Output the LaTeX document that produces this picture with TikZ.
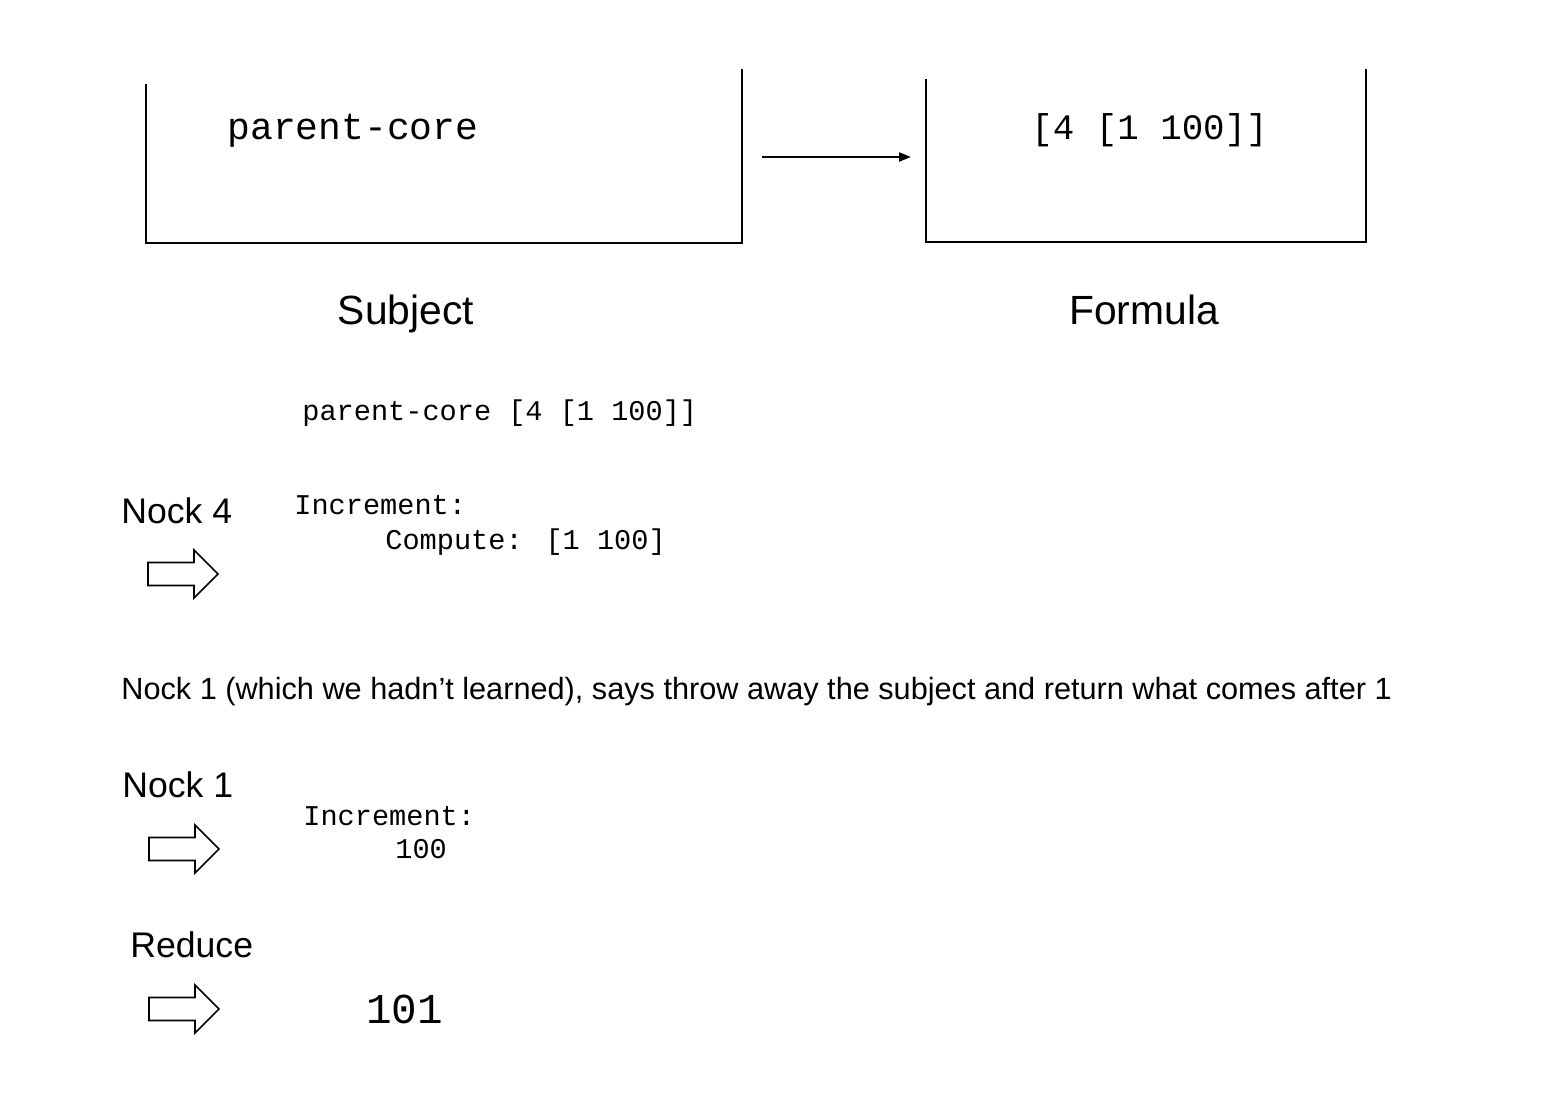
\documentclass[tikz,border=0pt]{standalone}
\usepackage{fontspec}
\setmainfont{Liberation Sans}
\newfontfamily\monofont{Liberation Mono}
\usetikzlibrary{arrows.meta}
\tikzset{
  boxline/.style={line width=1pt, line cap=rect},
  sanslabel/.style={inner sep=0pt, anchor=base west, font=\fontsize{17.8}{22}\selectfont},
  biglabel/.style={inner sep=0pt, anchor=base, font=\fontsize{20.4}{25}\selectfont},
  monobig/.style={inner sep=0pt, anchor=base west, font=\monofont\fontsize{19}{23}\selectfont},
  monomid/.style={inner sep=0pt, anchor=base west, font=\monofont\fontsize{14.3}{17}\selectfont},
  sentence/.style={inner sep=0pt, anchor=base west, font=\fontsize{15.34}{18}\selectfont},
  connector/.style={line width=1pt, -{Triangle[length=6pt,width=4.5pt]}},
  blockarrow/.style={line width=0.8pt, line join=miter},
  pics/fatarrow/.style={code={
    \draw[blockarrow] (0,-11.5) -- (46,-11.5) -- (46,-24) -- (70,0) -- (46,24) -- (46,11.5) -- (0,11.5) -- cycle;
  }}
}
\begin{document}
\begin{tikzpicture}[x=0.5pt, y=-0.5pt]
\useasboundingbox (0,0) rectangle (1544,1102);

% Subject box (open top)
\coordinate (s1) at (146,85);
\coordinate (s2) at (146,243);
\coordinate (s3) at (742,243);
\coordinate (s4) at (742,70);
\draw[boxline] (s1) -- (s2) -- (s3) -- (s4);
\node[monobig] (subjtext) at (227,140) {parent-core};

% Formula box (open top)
\coordinate (f1) at (926,80);
\coordinate (f2) at (926,242);
\coordinate (f3) at (1366,242);
\coordinate (f4) at (1366,70);
\draw[boxline] (f1) -- (f2) -- (f3) -- (f4);
\node[monobig, font=\monofont\fontsize{17.9}{22}\selectfont] (formtext) at (1031,140) {[4 [1 100]]};

% connector between boxes
\coordinate (ca) at (762,157);
\coordinate (cb) at (911,157);
\draw[connector] (ca) -- (cb);

% labels
\node[biglabel] (subjlabel) at (406,324) {Subject};
\node[biglabel] (formlabel) at (1144,324) {Formula};

\node[monomid] (combined) at (302,420) {parent-core [4 [1 100]]};

% Nock 4
\node[sanslabel] (nock4) at (121,523) {Nock 4};
\pic (arr1) at (148,574) {fatarrow};
\node[monomid] (inc1) at (294,514) {Increment:};
\node[monomid] (comp1) at (385,549) {Compute: [1 100]};

% sentence
\node[sentence] (expl) at (121,699) {Nock 1 (which we hadn’t learned), says throw away the subject and return what comes after 1};

% Nock 1
\node[sanslabel] (nock1) at (122,797) {Nock 1};
\pic (arr2) at (149,849) {fatarrow};
\node[monomid] (inc2) at (303,825) {Increment:};
\node[monomid] (val2) at (395,858) {100};

% Reduce
\node[sanslabel] (reduce) at (130,957) {Reduce};
\pic (arr3) at (149,1009) {fatarrow};
\node[inner sep=0pt, anchor=base west, font=\monofont\fontsize{21.3}{26}\selectfont] (result) at (366,1023) {101};
\end{tikzpicture}
\end{document}
